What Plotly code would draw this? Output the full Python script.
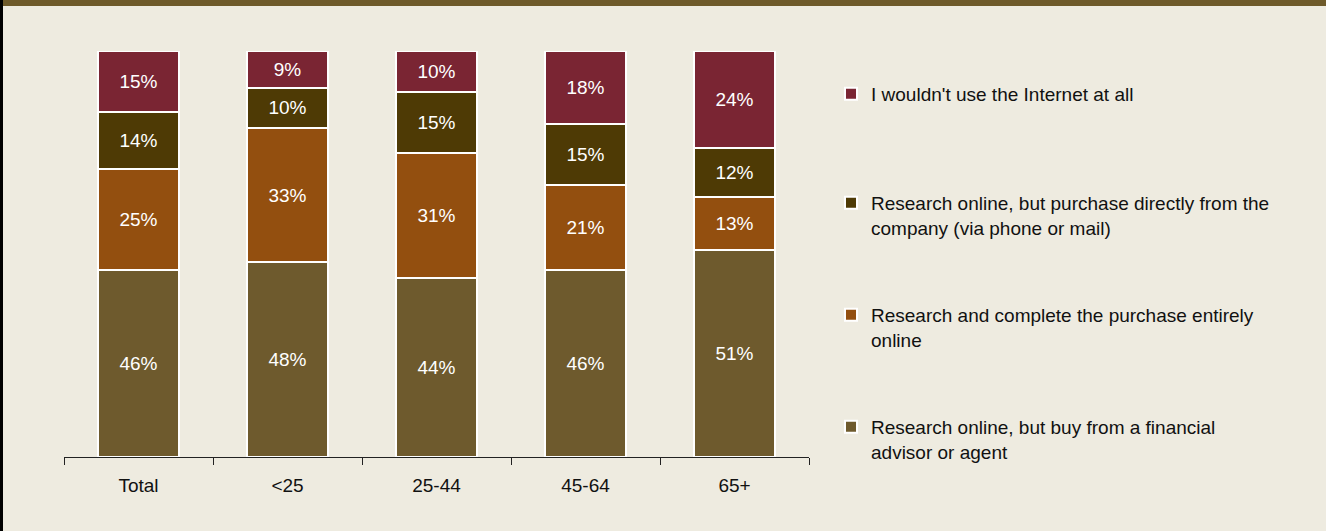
import plotly.graph_objects as go

# Age groups along the x axis
categories = ["Total", "<25", "25-44", "45-64", "65+"]

# Share of respondents (%) per purchase channel, bottom to top of each stack
advisor_agent = [46, 48, 44, 46, 51]
entirely_online = [25, 33, 31, 21, 13]
direct_company = [14, 10, 15, 15, 12]
no_internet = [15, 9, 10, 18, 24]

series_names = [
    "Research online, but buy from a financial<br>advisor or agent",
    "Research and complete the purchase entirely<br>online",
    "Research online, but purchase directly from the<br>company (via phone or mail)",
    "I wouldn't use the Internet at all",
]
series_values = [advisor_agent, entirely_online, direct_company, no_internet]
series_colors = ["#6E5A2D", "#934F0F", "#4E3A05", "#7A2533"]

# Pixel layout of the plot area inside the 1326x531 page
W, H = 1326, 531
L, R = 64, 809
T, B = 51, 457


def px_x(p):
    return (p - L) / (R - L)


def px_y(p):
    return (B - p) / (B - T)


# Top edge of each legend entry (pixels) and legend ids
legend_tops = [408, 296, 184, 75]
legend_ids = ["legend4", "legend3", "legend2", "legend"]

FONT = "Liberation Sans, Arial, sans-serif"

fig = go.Figure()
for name, vals, color, lid in zip(series_names, series_values, series_colors, legend_ids):
    fig.add_trace(go.Bar(
        x=categories,
        y=vals,
        name=name,
        legend=lid,
        marker=dict(color=color, line=dict(color="white", width=2)),
        text=[f"{v}%" for v in vals],
        textposition="inside",
        insidetextanchor="middle",
        textangle=0,
        constraintext="none",
        textfont=dict(color="white", size=19, family=FONT),
        hoverinfo="skip",
    ))

legend_common = dict(
    x=px_x(831),
    xanchor="left",
    yanchor="top",
    bgcolor="rgba(0,0,0,0)",
    font=dict(size=19, color="#111111", family=FONT),
    valign="top",
    itemclick=False,
)

layout_legends = {}
for lid, top in zip(legend_ids, legend_tops):
    layout_legends[lid] = dict(legend_common, y=px_y(top))

fig.update_layout(
    width=W,
    height=H,
    margin=dict(l=L, r=W - R, t=T, b=H - B),
    paper_bgcolor="#EEEBE0",
    plot_bgcolor="#EEEBE0",
    barmode="stack",
    bargap=0.455,
    uniformtext=dict(mode="show", minsize=19),
    showlegend=True,
    **layout_legends,
    xaxis=dict(
        showgrid=False,
        showline=True,
        linecolor="#222222",
        linewidth=1,
        ticks="outside",
        tickson="boundaries",
        ticklen=7,
        tickcolor="#222222",
        tickfont=dict(size=19, color="#111111", family=FONT),
        ticklabelstandoff=11,
        fixedrange=True,
    ),
    yaxis=dict(
        range=[0, 100],
        visible=False,
        showgrid=False,
        zeroline=False,
        fixedrange=True,
    ),
    shapes=[
        # brown band across the top of the frame
        dict(type="rect", xref="paper", yref="paper",
             x0=px_x(0), x1=px_x(W), y0=px_y(0), y1=px_y(6),
             fillcolor="#6E5A2A", line=dict(width=0), layer="above"),
        # dark rule along the left edge
        dict(type="rect", xref="paper", yref="paper",
             x0=px_x(0), x1=px_x(3), y0=px_y(0), y1=px_y(H),
             fillcolor="#000000", line=dict(width=0), layer="above"),
    ],
)

fig.write_html("out.html", config={"displayModeBar": False})
